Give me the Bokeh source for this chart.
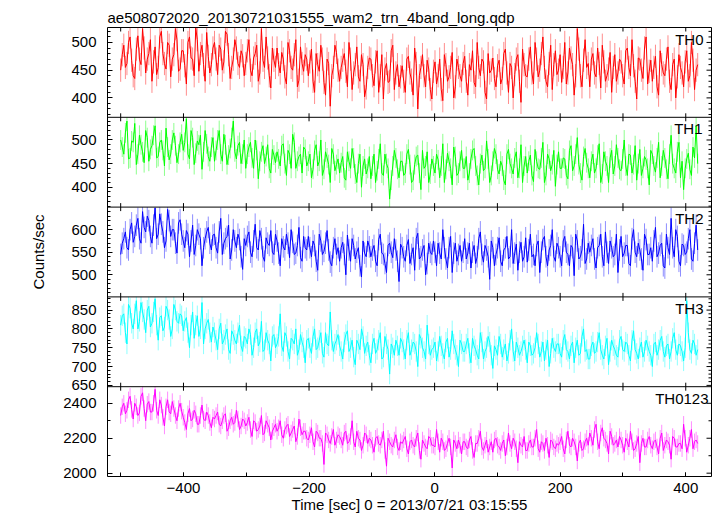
import numpy as np
from bokeh.plotting import figure
from bokeh.models import (Range1d, LinearAxis, FixedTicker, SingleIntervalTicker, Label,
                          Span, CustomJSTickFormatter)
from bokeh.embed import file_html
from bokeh.resources import INLINE

title_text = "ae508072020_20130721031555_wam2_trn_4band_long.qdp"
x_label = "Time [sec] 0 = 2013/07/21 03:15:55"
y_label = "Counts/sec"
band_names = ["TH0", "TH1", "TH2", "TH3", "TH0123"]
band_colors = ["#ff0000", "#00ff00", "#0000ff", "#00ffff", "#ff00ff"]
t_start, t_end = -500, 419
y_ranges = [(365, 527), (358, 548), (451, 650), (646.5, 885), (1981, 2495)]
y_intervals = [50, 50, 50, 50, 200]
y_minor = [5, 5, 5, 5, 2]
x_tick_step = 100
err_half = [21, 21, 24, 27, 47]
label_inset_px = [8, 9, 8, 8, 3]

# samples: "a" = even samples, "b" = the samples in between
th0_a = [450, 495, 462, 510, 440, 488, 470, 525, 445, 480,
         430, 492, 455, 520, 462, 500, 438, 478, 505, 452,
         485, 425, 510, 470, 526, 448, 495, 430, 475, 460,
         500, 442, 488, 465, 515, 435, 470, 490, 455, 476,
         462, 505, 440, 480, 430, 525, 455, 472, 418, 468,
         490, 445, 470, 425, 485, 450, 505, 432, 462, 478,
         440, 488, 410, 460, 495, 428, 470, 385, 455, 482,
         430, 468, 448, 500, 415, 460, 438, 478, 402, 455,
         470, 422, 485, 440, 398, 462, 430, 495, 445, 420,
         458, 410, 475, 432, 490, 380, 455, 440, 468, 415,
         448, 425, 470, 395, 460, 438, 482, 420, 455, 430,
         475, 405, 450, 428, 500, 440, 465, 398, 445, 472,
         420, 468, 435, 488, 410, 455, 442, 478, 392, 460,
         438, 492, 425, 470, 450, 510, 430, 462, 415, 485,
         450, 428, 500, 445, 472, 405, 525, 440, 468, 455,
         420, 480, 438, 462, 495, 430, 452, 410, 478, 445,
         465, 425, 490, 440, 458, 398, 470, 435, 510, 448,
         430, 475, 405, 460, 440, 492, 415, 470, 438, 455,
         420, 485, 440, 468, 450]
th0_b = [478, 455, 500, 468, 435, 512, 460, 490, 470, 505,
         465, 442, 510, 480, 452, 495, 470, 525, 448, 485,
         458, 500, 472, 440, 505, 480, 460, 518, 445, 490,
         470, 495, 450, 520, 478, 455, 505, 462, 485, 440,
         485, 450, 472, 495, 445, 468, 510, 440, 490, 455,
         460, 482, 438, 500, 455, 478, 420, 492, 448, 470,
         465, 430, 480, 448, 470, 405, 462, 440, 495, 450,
         455, 480, 420, 470, 445, 492, 430, 460, 418, 472,
         440, 465, 410, 478, 452, 428, 485, 415, 460, 438,
         430, 470, 445, 405, 462, 440, 478, 420, 452, 398,
         465, 440, 415, 478, 430, 455, 400, 470, 440, 462,
         430, 460, 485, 420, 455, 470, 410, 480, 450, 435,
         458, 425, 480, 445, 462, 400, 470, 430, 488, 440,
         470, 445, 500, 438, 480, 455, 420, 495, 460, 442,
         478, 455, 425, 490, 460, 440, 488, 420, 505, 462,
         470, 445, 490, 418, 465, 440, 482, 455, 430, 470,
         440, 485, 455, 505, 430, 472, 450, 490, 425, 468,
         455, 420, 485, 445, 470, 430, 460, 400, 478, 445,
         465, 430, 500, 415, 460]

th1_a = [500, 470, 540, 462, 495, 448, 510, 475, 520, 455,
         488, 530, 465, 500, 445, 485, 470, 515, 452, 495,
         478, 545, 460, 505, 472, 490, 438, 520, 465, 485,
         455, 500, 470, 512, 448, 482, 540, 460, 495, 470,
         440, 485, 462, 500, 418, 475, 450, 490, 430, 468,
         475, 445, 492, 425, 470, 512, 440, 465, 430, 480,
         455, 420, 478, 445, 500, 438, 462, 410, 470, 448,
         430, 465, 415, 455, 482, 428, 450, 400, 460, 440,
         418, 470, 435, 492, 425, 450, 375, 445, 462, 420,
         455, 430, 480, 410, 448, 468, 395, 440, 475, 428,
         445, 470, 420, 492, 438, 455, 405, 465, 430, 478,
         440, 415, 460, 482, 425, 450, 435, 498, 410, 455,
         470, 428, 445, 405, 480, 440, 462, 420, 490, 445,
         430, 468, 412, 455, 438, 495, 425, 460, 448, 402,
         475, 440, 460, 418, 488, 445, 505, 430, 465, 452,
         420, 470, 440, 492, 428, 455, 410, 478, 445, 462,
         435, 500, 425, 468, 448, 415, 480, 440, 458, 405,
         470, 432, 495, 445, 462, 418, 510, 440, 475, 420,
         395, 460, 438, 485, 530]
th1_b = [485, 515, 460, 498, 535, 470, 490, 452, 505, 480,
         510, 462, 495, 478, 525, 458, 500, 488, 470, 512,
         495, 470, 520, 448, 498, 510, 475, 492, 455, 505,
         478, 520, 455, 490, 468, 505, 475, 488, 450, 500,
         470, 495, 440, 478, 455, 488, 465, 440, 480, 452,
         460, 488, 450, 478, 440, 495, 455, 470, 485, 445,
         470, 438, 490, 455, 425, 475, 448, 482, 435, 460,
         452, 420, 475, 440, 462, 410, 470, 445, 428, 465,
         445, 410, 460, 430, 470, 440, 415, 478, 438, 455,
         425, 470, 448, 415, 465, 430, 478, 445, 410, 460,
         430, 458, 445, 410, 472, 440, 485, 425, 455, 440,
         465, 430, 478, 445, 405, 468, 440, 460, 425, 482,
         438, 455, 415, 470, 450, 428, 475, 440, 410, 465,
         455, 425, 480, 440, 462, 410, 470, 435, 478, 448,
         440, 462, 425, 478, 435, 470, 448, 415, 482, 440,
         455, 430, 468, 410, 475, 445, 462, 428, 490, 438,
         460, 445, 470, 430, 488, 450, 425, 465, 440, 478,
         445, 462, 420, 478, 438, 470, 450, 430, 495, 455,
         440, 472, 425, 462, 450]

th2_a = [545, 580, 560, 600, 572, 610, 580, 640, 595, 620,
         570, 648, 590, 612, 560, 645, 585, 600, 548, 622,
         575, 598, 540, 610, 565, 590, 520, 580, 605, 555,
         590, 548, 625, 570, 585, 535, 600, 560, 578, 512,
         565, 595, 540, 612, 555, 580, 530, 570, 598, 545,
         575, 520, 562, 590, 538, 572, 548, 605, 530, 560,
         585, 540, 565, 510, 575, 552, 598, 528, 560, 545,
         530, 572, 500, 555, 580, 535, 560, 495, 548, 575,
         540, 565, 520, 590, 545, 505, 570, 538, 555, 485,
         560, 530, 578, 545, 510, 592, 540, 565, 525, 550,
         575, 520, 548, 600, 535, 560, 505, 570, 545, 530,
         580, 548, 515, 565, 540, 595, 528, 555, 490, 560,
         545, 582, 520, 560, 535, 600, 548, 510, 572, 540,
         528, 590, 545, 565, 505, 578, 540, 555, 600, 530,
         560, 520, 585, 545, 565, 498, 575, 540, 612, 535,
         550, 580, 515, 565, 540, 595, 525, 560, 545, 505,
         585, 548, 565, 520, 600, 540, 555, 510, 578, 545,
         530, 605, 548, 570, 515, 560, 625, 540, 585, 520,
         565, 550, 600, 530, 610]
th2_b = [570, 595, 555, 615, 585, 625, 570, 605, 630, 585,
         610, 580, 635, 595, 575, 620, 600, 570, 615, 590,
         560, 590, 575, 545, 600, 580, 560, 595, 570, 588,
         560, 595, 545, 580, 610, 555, 575, 590, 540, 580,
         585, 550, 575, 560, 598, 540, 582, 565, 550, 590,
         548, 580, 555, 570, 600, 545, 565, 538, 585, 555,
         560, 575, 530, 590, 545, 570, 555, 520, 580, 560,
         560, 545, 588, 530, 565, 550, 520, 575, 540, 562,
         555, 530, 578, 548, 525, 565, 550, 580, 530, 568,
         540, 565, 525, 560, 580, 535, 555, 500, 570, 545,
         550, 570, 535, 560, 515, 585, 548, 530, 565, 550,
         535, 570, 550, 525, 580, 545, 565, 540, 575, 520,
         560, 530, 555, 585, 540, 525, 568, 550, 530, 582,
         555, 540, 520, 575, 550, 585, 520, 565, 540, 570,
         540, 575, 550, 520, 560, 590, 535, 555, 525, 570,
         565, 535, 560, 590, 520, 550, 575, 540, 590, 555,
         540, 565, 525, 580, 550, 570, 535, 590, 545, 560,
         575, 540, 565, 520, 590, 545, 560, 600, 530, 568,
         545, 580, 535, 570, 555]

th3_a = [810, 840, 760, 855, 800, 875, 820, 845, 790, 860,
         815, 880, 770, 835, 805, 850, 780, 865, 820, 840,
         795, 830, 750, 845, 810, 780, 870, 800, 825, 765,
         790, 745, 815, 770, 800, 735, 785, 760, 810, 740,
         775, 800, 730, 790, 755, 820, 745, 770, 715, 785,
         760, 840, 740, 780, 720, 770, 800, 745, 765, 710,
         775, 735, 800, 750, 790, 725, 760, 845, 740, 770,
         755, 720, 785, 740, 770, 705, 760, 800, 735, 765,
         710, 775, 745, 790, 725, 760, 680, 750, 770, 730,
         765, 720, 790, 745, 760, 700, 775, 740, 810, 730,
         750, 715, 780, 735, 765, 725, 795, 745, 700, 760,
         740, 775, 710, 755, 730, 790, 720, 750, 765, 695,
         745, 780, 725, 760, 735, 800, 715, 750, 740, 770,
         710, 755, 735, 790, 725, 765, 745, 700, 775, 740,
         760, 725, 785, 740, 755, 710, 770, 735, 800, 745,
         720, 765, 740, 790, 730, 755, 705, 770, 745, 725,
         780, 740, 760, 715, 795, 735, 750, 725, 770, 740,
         700, 765, 745, 780, 725, 760, 740, 790, 730, 755,
         715, 875, 745, 770, 730]
th3_b = [835, 790, 865, 815, 840, 800, 870, 825, 850, 805,
         845, 810, 830, 795, 860, 825, 800, 850, 815, 835,
         820, 790, 810, 775, 835, 800, 760, 815, 790, 805,
         770, 800, 760, 785, 745, 795, 770, 790, 755, 780,
         760, 785, 750, 800, 765, 740, 790, 760, 780, 750,
         780, 755, 790, 740, 775, 760, 730, 785, 750, 770,
         750, 780, 745, 770, 735, 790, 755, 770, 760, 785,
         740, 765, 795, 750, 725, 770, 745, 780, 755, 730,
         760, 735, 770, 720, 780, 745, 760, 730, 755, 775,
         745, 770, 730, 765, 740, 785, 750, 720, 760, 745,
         765, 740, 755, 720, 775, 745, 760, 730, 770, 740,
         760, 735, 775, 745, 720, 765, 740, 780, 730, 755,
         730, 760, 745, 715, 770, 740, 765, 730, 755, 745,
         765, 730, 750, 760, 740, 715, 770, 735, 750, 760,
         735, 770, 745, 720, 765, 750, 730, 780, 740, 720,
         755, 735, 765, 745, 720, 775, 740, 755, 730, 770,
         745, 765, 730, 770, 745, 720, 765, 740, 755, 730,
         760, 730, 770, 740, 755, 720, 775, 745, 760, 740,
         750, 790, 735, 760, 745]

th0123_a = [2330, 2400, 2360, 2440, 2310, 2380, 2345, 2460, 2300, 2410,
            2350, 2480, 2330, 2390, 2270, 2420, 2340, 2370, 2300, 2400,
            2320, 2250, 2370, 2310, 2340, 2280, 2390, 2300, 2330, 2260,
            2310, 2350, 2270, 2330, 2240, 2300, 2280, 2360, 2250, 2310,
            2270, 2320, 2210, 2290, 2250, 2330, 2230, 2280, 2190, 2260,
            2240, 2300, 2200, 2270, 2210, 2250, 2180, 2310, 2220, 2240,
            2190, 2260, 2150, 2230, 2200, 2050, 2220, 2170, 2250, 2190,
            2210, 2160, 2240, 2180, 2300, 2150, 2200, 2130, 2230, 2170,
            2190, 2120, 2210, 2160, 2240, 2040, 2180, 2150, 2220, 2130,
            2170, 2210, 2110, 2190, 2150, 2230, 2080, 2170, 2140, 2200,
            2160, 2250, 2120, 2180, 2140, 2200, 2030, 2170, 2190, 2110,
            2180, 2140, 2210, 2090, 2170, 2240, 2130, 2190, 2150, 2120,
            2200, 2150, 2170, 2100, 2230, 2140, 2180, 2060, 2160, 2210,
            2130, 2190, 2150, 2250, 2120, 2170, 2200, 2090, 2180, 2140,
            2160, 2210, 2110, 2240, 2150, 2180, 2070, 2190, 2140, 2200,
            2230, 2160, 2280, 2140, 2260, 2190, 2110, 2210, 2170, 2150,
            2190, 2120, 2180, 2240, 2130, 2170, 2060, 2200, 2150, 2210,
            2140, 2190, 2110, 2230, 2160, 2180, 2080, 2200, 2150, 2170,
            2280, 2120, 2200, 2140, 2190]
th0123_b = [2380, 2340, 2420, 2365, 2400, 2330, 2440, 2370, 2395, 2350,
            2400, 2360, 2420, 2320, 2380, 2350, 2410, 2330, 2370, 2355,
            2290, 2340, 2300, 2360, 2280, 2330, 2310, 2350, 2290, 2320,
            2330, 2280, 2300, 2340, 2260, 2320, 2290, 2310, 2270, 2300,
            2290, 2250, 2300, 2240, 2270, 2220, 2300, 2260, 2240, 2280,
            2260, 2220, 2250, 2280, 2230, 2270, 2210, 2260, 2240, 2200,
            2220, 2180, 2240, 2200, 2170, 2230, 2190, 2210, 2160, 2220,
            2190, 2230, 2170, 2210, 2180, 2240, 2190, 2160, 2220, 2200,
            2160, 2200, 2170, 2190, 2130, 2200, 2160, 2190, 2150, 2180,
            2190, 2140, 2180, 2160, 2200, 2130, 2190, 2150, 2210, 2160,
            2150, 2180, 2200, 2130, 2170, 2150, 2190, 2140, 2160, 2180,
            2150, 2190, 2130, 2170, 2200, 2150, 2160, 2120, 2180, 2190,
            2160, 2130, 2190, 2150, 2170, 2200, 2140, 2180, 2150, 2130,
            2170, 2150, 2200, 2140, 2180, 2130, 2160, 2190, 2150, 2170,
            2180, 2140, 2190, 2160, 2200, 2150, 2170, 2130, 2180, 2160,
            2200, 2250, 2180, 2230, 2200, 2170, 2240, 2160, 2190, 2210,
            2160, 2200, 2150, 2180, 2140, 2210, 2170, 2150, 2190, 2160,
            2180, 2150, 2200, 2130, 2190, 2160, 2210, 2150, 2170, 2140,
            2200, 2160, 2250, 2180, 2170]

series = [(th0_a, th0_b), (th1_a, th1_b), (th2_a, th2_b), (th3_a, th3_b), (th0123_a, th0123_b)]

FONT = "Liberation Sans"
W, H = 717, 516
BORDER_L, BORDER_R, BORDER_T, BORDER_B = 107, 6, 27, 40
X_LO, X_HI = -521, 441
NP = len(series)
frame_w = W - BORDER_L - BORDER_R
frame_h = H - BORDER_T - BORDER_B
px_x = frame_w / (X_HI - X_LO)
px_panel = frame_h / NP

p = figure(width=W, height=H, x_range=Range1d(X_LO, X_HI), y_range=Range1d(0, NP),
           output_backend="svg", toolbar_location=None,
           x_axis_location=None, y_axis_location=None,
           min_border_left=BORDER_L, min_border_right=BORDER_R,
           min_border_top=BORDER_T, min_border_bottom=BORDER_B,
           background_fill_color="white", border_fill_color="white",
           outline_line_color="black", outline_line_width=1)
p.grid.visible = False

p.title.text = title_text
p.title.align = "left"
p.title.text_font = FONT
p.title.text_font_size = "15px"
p.title.text_font_style = "normal"
p.title.text_color = "black"
p.title.standoff = 4
p.title.offset = 0

for i, (lo, hi) in enumerate(y_ranges):
    span = hi - lo
    below = NP - 1 - i
    p.extra_y_ranges[f"r{i}"] = Range1d(lo - below * span, hi + i * span)

major_base, minor_base = [], []
panel_major, panel_minor = [], []
for i, (lo, hi) in enumerate(y_ranges):
    step = y_intervals[i]
    mstep = step / y_minor[i]
    majors = [v for v in np.arange(np.ceil(lo / step) * step, hi, step) if lo < v < hi]
    minors = [v for v in np.arange(np.ceil(lo / mstep) * mstep, hi, mstep)
              if lo < v < hi and abs(v / step - round(v / step)) > 1e-6]
    panel_major.append(majors)
    panel_minor.append(minors)
    base0 = NP - 1 - i
    major_base += [base0 + (v - lo) / (hi - lo) for v in majors]
    minor_base += [base0 + (v - lo) / (hi - lo) for v in minors]

los = [r[0] for r in y_ranges]
his = [r[1] for r in y_ranges]
yfmt = CustomJSTickFormatter(args=dict(los=los, his=his, n=NP), code="""
let k = Math.floor(tick + 1e-9);
if (k > n - 1) k = n - 1;
if (k < 0) k = 0;
const i = n - 1 - k;
const v = los[i] + (tick - k) * (his[i] - los[i]);
return Math.round(v).toString();
""")

yl = LinearAxis(ticker=FixedTicker(ticks=major_base, minor_ticks=minor_base), formatter=yfmt)
yl.major_tick_in = 5
yl.major_tick_out = 0
yl.minor_tick_in = 3
yl.minor_tick_out = 0
yl.axis_line_color = None
yl.major_tick_line_color = "black"
yl.minor_tick_line_color = "black"
yl.major_label_text_font = FONT
yl.major_label_text_font_size = "15px"
yl.major_label_text_color = "black"
yl.major_label_standoff = 11
yl.axis_label = y_label
yl.axis_label_text_font = FONT
yl.axis_label_text_font_size = "15px"
yl.axis_label_text_font_style = "normal"
yl.axis_label_text_color = "black"
yl.axis_label_standoff = 13
p.add_layout(yl, "left")

xfmt = CustomJSTickFormatter(code="return tick < 0 ? '\\u2212' + Math.abs(tick) : tick.toString();")
xb = LinearAxis(ticker=SingleIntervalTicker(interval=2 * x_tick_step, num_minor_ticks=2), formatter=xfmt)
xb.major_tick_in = 4
xb.major_tick_out = 0
xb.minor_tick_in = 4
xb.minor_tick_out = 0
xb.axis_line_color = None
xb.major_tick_line_color = "black"
xb.minor_tick_line_color = "black"
xb.major_label_text_font = FONT
xb.major_label_text_font_size = "15px"
xb.major_label_text_color = "black"
xb.major_label_standoff = 6
xb.axis_label = x_label
xb.axis_label_text_font = FONT
xb.axis_label_text_font_size = "15px"
xb.axis_label_text_font_style = "normal"
xb.axis_label_text_color = "black"
xb.axis_label_standoff = 0
p.add_layout(xb, "below")

for k in range(1, NP):
    p.add_layout(Span(location=k, dimension="width", line_color="black", line_width=1))

x_ticks = list(range(int(np.ceil(X_LO / x_tick_step)) * x_tick_step, X_HI + 1, x_tick_step))
d = 4.0 / px_panel
tx0, ty0, ty1 = [], [], []
for k in range(1, NP + 1):
    for xt in x_ticks:
        tx0.append(xt)
        ty0.append(k - d)
        ty1.append(min(k + d, NP))
p.segment(x0=tx0, y0=ty0, x1=tx0, y1=ty1, line_color="black", line_width=1)

dx_major = 5.0 / px_x
dx_minor = 3.0 / px_x
rx0, rx1, ry = [], [], []
for i in range(NP):
    lo, hi = y_ranges[i]
    base0 = NP - 1 - i
    for v in panel_major[i]:
        rx0.append(X_HI); rx1.append(X_HI - dx_major); ry.append(base0 + (v - lo) / (hi - lo))
    for v in panel_minor[i]:
        rx0.append(X_HI); rx1.append(X_HI - dx_minor); ry.append(base0 + (v - lo) / (hi - lo))
p.segment(x0=rx0, y0=ry, x1=rx1, y1=ry, line_color="black", line_width=1)

for i in range(NP):
    lo, hi = y_ranges[i]
    a, b = series[i]
    vals = np.column_stack([np.array(a, dtype=float), np.array(b, dtype=float)]).ravel()
    t = np.linspace(t_start, t_end, len(vals))
    e = err_half[i]
    p.segment(x0=t, y0=np.clip(vals - e, lo, hi), x1=t, y1=np.clip(vals + e, lo, hi),
              line_color=band_colors[i], line_alpha=0.45, line_width=1, y_range_name=f"r{i}")
    p.line(t, vals, line_color=band_colors[i], line_width=1, y_range_name=f"r{i}")
    p.add_layout(Label(x=X_HI - label_inset_px[i] / px_x,
                       y=(NP - i) - 3.0 / px_panel,
                       text=band_names[i], text_align="right", text_baseline="top",
                       text_font=FONT, text_font_size="15px", text_color="black"))

open("out.html", "w").write(file_html(p, INLINE))
